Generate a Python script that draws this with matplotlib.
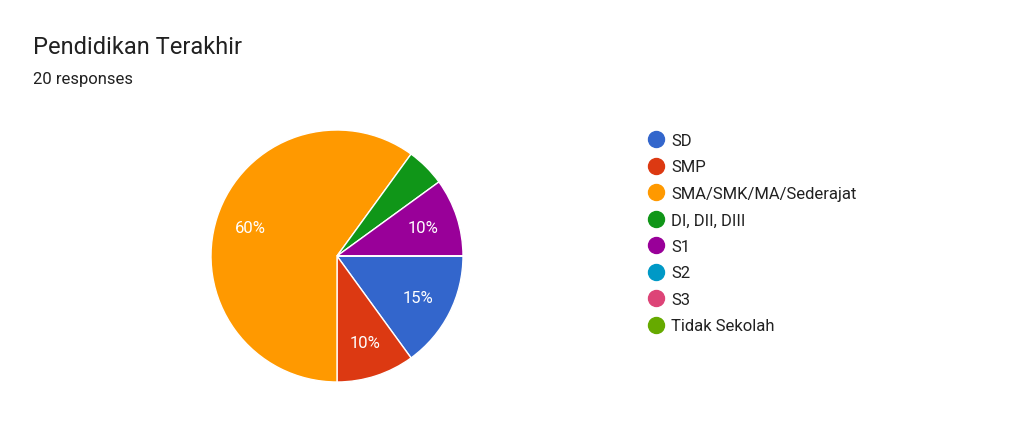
import matplotlib
matplotlib.use("Agg")
import matplotlib.pyplot as plt
from matplotlib.lines import Line2D

plt.rcParams['font.family'] = ['Roboto', 'DejaVu Sans']

title = "Pendidikan Terakhir"
subtitle = "20 responses"
categories = ["SD", "SMP", "SMA/SMK/MA/Sederajat", "DI, DII, DIII", "S1", "S2", "S3", "Tidak Sekolah"]
counts = [3, 2, 12, 1, 2, 0, 0, 0]
colors = ["#3366cc", "#dc3912", "#ff9900", "#109618", "#990099", "#0099c6", "#dd4477", "#66aa00"]

W, H = 1024, 431
fig = plt.figure(figsize=(W / 100, H / 100), dpi=100)

cx, cy, r = 337, 257, 126
ax = fig.add_axes([(cx - r) / W, (H - cy - r) / H, 2 * r / W, 2 * r / H])

def fmt(p):
    return f"{p:.0f}%" if p >= 7 else ""

wedges, texts, autotexts = ax.pie(
    counts, colors=colors, startangle=0, counterclock=False,
    autopct=fmt, pctdistance=0.72,
    wedgeprops=dict(edgecolor="white", linewidth=1),
    textprops=dict(color="white", fontsize=12),
)
ax.set_xlim(-1, 1)
ax.set_ylim(-1, 1)
ax.set_aspect("equal")

fig.text(33 / W, 1 - 54 / H, title, fontsize=17, color="#212121", va="baseline", ha="left")
fig.text(33 / W, 1 - 84 / H, subtitle, fontsize=12, color="#212121", va="baseline", ha="left")

handles = [Line2D([0], [0], marker="o", linestyle="none", markersize=11.5,
                  markerfacecolor=c, markeredgecolor=c) for c in colors]
fig.legend(handles, categories, loc="upper left",
           bbox_to_anchor=(648 / W, 1 - 134 / H), frameon=False,
           fontsize=12, labelspacing=0.69, handlelength=1.0,
           handletextpad=0.38, borderpad=0, borderaxespad=0,
           labelcolor="#212121")

fig.savefig("out.png", dpi=100, facecolor="white")
